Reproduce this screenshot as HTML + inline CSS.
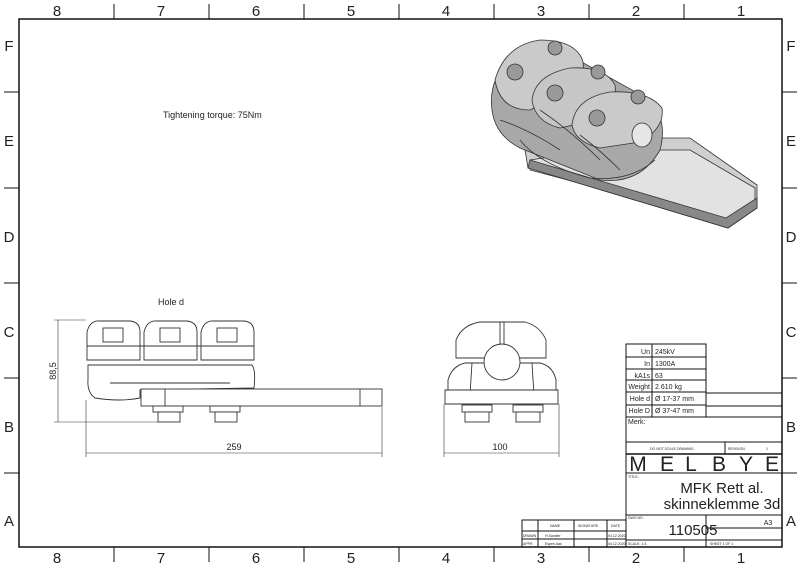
<!DOCTYPE html>
<html><head><meta charset="utf-8"><style>
html,body{margin:0;padding:0;background:#fff}
svg{display:block}
text{font-family:"Liberation Sans",sans-serif;fill:#222}
</style></head><body>
<svg width="800" height="566" viewBox="0 0 800 566" xmlns="http://www.w3.org/2000/svg">
<rect width="800" height="566" fill="#fff"/>
<rect x="19" y="19" width="763" height="528" fill="none" stroke="#111" stroke-width="1.5"/>
<g stroke="#111" stroke-width="1">
<line x1="114" y1="4" x2="114" y2="19"/><line x1="209" y1="4" x2="209" y2="19"/><line x1="304" y1="4" x2="304" y2="19"/><line x1="399" y1="4" x2="399" y2="19"/><line x1="494" y1="4" x2="494" y2="19"/><line x1="589" y1="4" x2="589" y2="19"/><line x1="684" y1="4" x2="684" y2="19"/>
<line x1="114" y1="547" x2="114" y2="562"/><line x1="209" y1="547" x2="209" y2="562"/><line x1="304" y1="547" x2="304" y2="562"/><line x1="399" y1="547" x2="399" y2="562"/><line x1="494" y1="547" x2="494" y2="562"/><line x1="589" y1="547" x2="589" y2="562"/><line x1="684" y1="547" x2="684" y2="562"/>
<line x1="4" y1="92" x2="19" y2="92"/><line x1="4" y1="188" x2="19" y2="188"/><line x1="4" y1="283" x2="19" y2="283"/><line x1="4" y1="378" x2="19" y2="378"/><line x1="4" y1="473" x2="19" y2="473"/>
<line x1="782" y1="92" x2="797" y2="92"/><line x1="782" y1="188" x2="797" y2="188"/><line x1="782" y1="283" x2="797" y2="283"/><line x1="782" y1="378" x2="797" y2="378"/><line x1="782" y1="473" x2="797" y2="473"/>
</g>
<g font-size="15" text-anchor="middle">
<text x="57" y="16">8</text><text x="161" y="16">7</text><text x="256" y="16">6</text><text x="351" y="16">5</text><text x="446" y="16">4</text><text x="541" y="16">3</text><text x="636" y="16">2</text><text x="741" y="16">1</text>
<text x="57" y="563">8</text><text x="161" y="563">7</text><text x="256" y="563">6</text><text x="351" y="563">5</text><text x="446" y="563">4</text><text x="541" y="563">3</text><text x="636" y="563">2</text><text x="741" y="563">1</text>
<text x="9" y="51">F</text><text x="9" y="146">E</text><text x="9" y="242">D</text><text x="9" y="337">C</text><text x="9" y="432">B</text><text x="9" y="526">A</text>
<text x="791" y="51">F</text><text x="791" y="146">E</text><text x="791" y="242">D</text><text x="791" y="337">C</text><text x="791" y="432">B</text><text x="791" y="526">A</text>
</g>
<text x="163" y="118" font-size="9">Tightening torque: 75Nm</text>
<text x="158" y="305" font-size="9">Hole d</text>

<!-- 3D view -->
<g stroke="#333" stroke-width="0.8">
<path d="M525,150 L600,138 L690,138 L757,185 L757,208 L728,228 L528,168 Z" fill="#cfcfcf"/>
<path d="M530,160 L595,150 L690,150 L755,188 L755,205 L725,222 L530,170 Z" fill="#e2e2e2"/>
<path d="M528,168 L728,228 L757,208 L757,198 L726,218 L530,160Z" fill="#888"/>
<path d="M492,110 Q488,80 510,60 Q535,38 560,50 L650,100 Q668,120 660,150 Q640,185 600,180 L520,148 Q495,135 492,110Z" fill="#a8a8a8"/>
<path d="M495,80 Q505,45 540,40 Q570,40 580,55 Q590,70 570,90 L530,110 Q500,110 495,80Z" fill="#cacaca"/>
<path d="M532,100 Q535,75 570,68 Q605,66 615,85 Q618,105 595,120 L560,128 Q535,122 532,100Z" fill="#c6c6c6"/>
<path d="M572,125 Q575,98 610,92 Q648,90 662,108 Q665,128 640,142 L600,148 Q575,142 572,125Z" fill="#cacaca"/>
<path d="M520,140 Q540,165 590,178 Q630,182 655,160" fill="none"/>
<path d="M500,120 Q530,130 560,150 M540,110 Q570,130 600,160 M580,135 Q600,150 620,170" fill="none"/>
<circle cx="515" cy="72" r="8" fill="#999"/><circle cx="555" cy="48" r="7" fill="#999"/>
<circle cx="555" cy="93" r="8" fill="#999"/><circle cx="598" cy="72" r="7" fill="#999"/>
<circle cx="597" cy="118" r="8" fill="#999"/><circle cx="638" cy="97" r="7" fill="#999"/>
<ellipse cx="642" cy="135" rx="10" ry="12" fill="#e6e6e6"/>
</g>

<!-- side view -->
<g stroke="#333" stroke-width="0.9" fill="#fff">
<path d="M87,360 L87,332 Q90,320 100,321 L130,321 Q140,322 140,332 L140,360Z"/>
<path d="M144,360 L144,332 Q147,320 157,321 L187,321 Q197,322 197,332 L197,360Z"/>
<path d="M201,360 L201,332 Q204,320 214,321 L244,321 Q254,322 254,332 L254,360Z"/>
<rect x="103" y="328" width="20" height="14"/><rect x="160" y="328" width="20" height="14"/><rect x="217" y="328" width="20" height="14"/>
<line x1="87" y1="346" x2="254" y2="346"/>
<path d="M88,365 L252,365 Q256,370 254,388 L140,390 L140,398 Q120,402 95,398 Q87,392 88,380Z"/>
<line x1="110" y1="383" x2="230" y2="383"/>
<rect x="141" y="389" width="241" height="17"/>
<line x1="165" y1="389" x2="165" y2="406"/><line x1="360" y1="389" x2="360" y2="406"/>
<rect x="153" y="406" width="30" height="6"/><rect x="210" y="406" width="30" height="6"/>
<rect x="158" y="412" width="22" height="10"/><rect x="215" y="412" width="22" height="10"/>
</g>
<g stroke="#333" stroke-width="0.6" fill="none">
<line x1="58" y1="320" x2="58" y2="422"/><line x1="54" y1="320" x2="86" y2="320"/><line x1="54" y1="422" x2="158" y2="422"/>
<line x1="86" y1="400" x2="86" y2="457"/><line x1="382" y1="407" x2="382" y2="457"/><line x1="86" y1="453" x2="382" y2="453"/>
<line x1="444" y1="404" x2="444" y2="457"/><line x1="559" y1="404" x2="559" y2="457"/><line x1="444" y1="453" x2="559" y2="453"/>
</g>
<text x="234" y="450" font-size="9" text-anchor="middle">259</text>
<text x="500" y="450" font-size="9" text-anchor="middle">100</text>
<text transform="translate(56,371) rotate(-90)" font-size="9" text-anchor="middle">88,5</text>

<!-- front view -->
<g stroke="#333" stroke-width="0.9" fill="#fff">
<path d="M456,358 L456,340 Q462,325 480,322 L525,322 Q540,326 546,340 L546,358Z"/>
<line x1="500" y1="322" x2="500" y2="345"/><line x1="504" y1="322" x2="504" y2="345"/>
<path d="M448,395 L448,380 Q452,366 465,363 L540,363 Q553,366 556,380 L556,395Z"/>
<line x1="472" y1="363" x2="470" y2="395"/><line x1="532" y1="363" x2="534" y2="395"/>
<circle cx="502" cy="362" r="18"/>
<path d="M445,390 L558,390 L558,404 L445,404Z"/>
<rect x="462" y="405" width="30" height="7"/><rect x="513" y="405" width="30" height="7"/>
<rect x="465" y="412" width="24" height="10"/><rect x="516" y="412" width="24" height="10"/>
</g>

<!-- title block -->
<g stroke="#111" stroke-width="1" fill="none">
<rect x="626" y="344" width="80" height="73"/>
<line x1="652" y1="344" x2="652" y2="417"/>
<line x1="626" y1="357" x2="706" y2="357"/><line x1="626" y1="369" x2="706" y2="369"/><line x1="626" y1="380" x2="706" y2="380"/><line x1="626" y1="392" x2="706" y2="392"/><line x1="626" y1="405" x2="706" y2="405"/>
<line x1="706" y1="393" x2="782" y2="393"/><line x1="706" y1="406" x2="782" y2="406"/>
<line x1="626" y1="417" x2="782" y2="417"/>
<line x1="626" y1="417" x2="626" y2="547"/>
<line x1="626" y1="442" x2="782" y2="442"/>
<line x1="626" y1="454" x2="782" y2="454" stroke-width="1.5"/>
<line x1="725" y1="442" x2="725" y2="454"/>
<line x1="626" y1="473" x2="782" y2="473"/>
<line x1="626" y1="515" x2="782" y2="515"/>
<line x1="706" y1="515" x2="706" y2="540"/><line x1="706" y1="528" x2="782" y2="528"/>
<line x1="626" y1="540" x2="782" y2="540"/>
<line x1="706" y1="540" x2="706" y2="547"/>
<rect x="522" y="520" width="104" height="27"/>
<line x1="522" y1="531" x2="626" y2="531"/><line x1="522" y1="539" x2="626" y2="539"/>
<line x1="538" y1="520" x2="538" y2="547"/><line x1="574" y1="520" x2="574" y2="547"/><line x1="607" y1="520" x2="607" y2="547"/>
</g>
<g font-size="7" fill="#222">
<text x="650" y="354" text-anchor="end">Un</text><text x="655" y="354">245kV</text>
<text x="650" y="366" text-anchor="end">In</text><text x="655" y="366">1300A</text>
<text x="650" y="378" text-anchor="end">kA1s</text><text x="655" y="378">63</text>
<text x="650" y="389" text-anchor="end">Weight</text><text x="655" y="389">2.610 kg</text>
<text x="650" y="401" text-anchor="end">Hole d</text><text x="655" y="401">Ø 17-37 mm</text>
<text x="650" y="413" text-anchor="end">Hole D</text><text x="655" y="413">Ø 37-47 mm</text>
<text x="628" y="424">Merk:</text>
</g>
<g font-size="3.5" fill="#444">
<text x="650" y="450">DO NOT SCALE DRAWING</text><text x="728" y="450">REVISION</text><text x="766" y="450">1</text>
<text x="628" y="478">TITLE:</text><text x="628" y="519">DWG NO.</text>
<text x="628" y="545">SCALE: 1:3</text><text x="710" y="545">SHEET 1 OF 1</text>
<text x="550" y="527">NAME</text><text x="578" y="527">SIGNATURE</text><text x="611" y="527">DATE</text>
<text x="523" y="537">DRAWN</text><text x="545" y="537">H.Sandler</text><text x="608" y="537">04.12.2020</text>
<text x="523" y="545">APPR</text><text x="545" y="545">Espen Aas</text><text x="608" y="545">04.12.2020</text>
</g>
<g font-size="21" text-anchor="middle" fill="#111">
<text x="638" y="471">M</text><text x="667" y="471">E</text><text x="691" y="471">L</text><text x="719" y="471">B</text><text x="746" y="471">Y</text><text x="772" y="471">E</text>
</g>
<text x="722" y="493" font-size="15" text-anchor="middle">MFK Rett al.</text>
<text x="722" y="509" font-size="15" text-anchor="middle">skinneklemme 3d</text>
<text x="693" y="535" font-size="15" text-anchor="middle">110505</text>
<text x="768" y="525" font-size="7" text-anchor="middle">A3</text>
</svg>
</body></html>
